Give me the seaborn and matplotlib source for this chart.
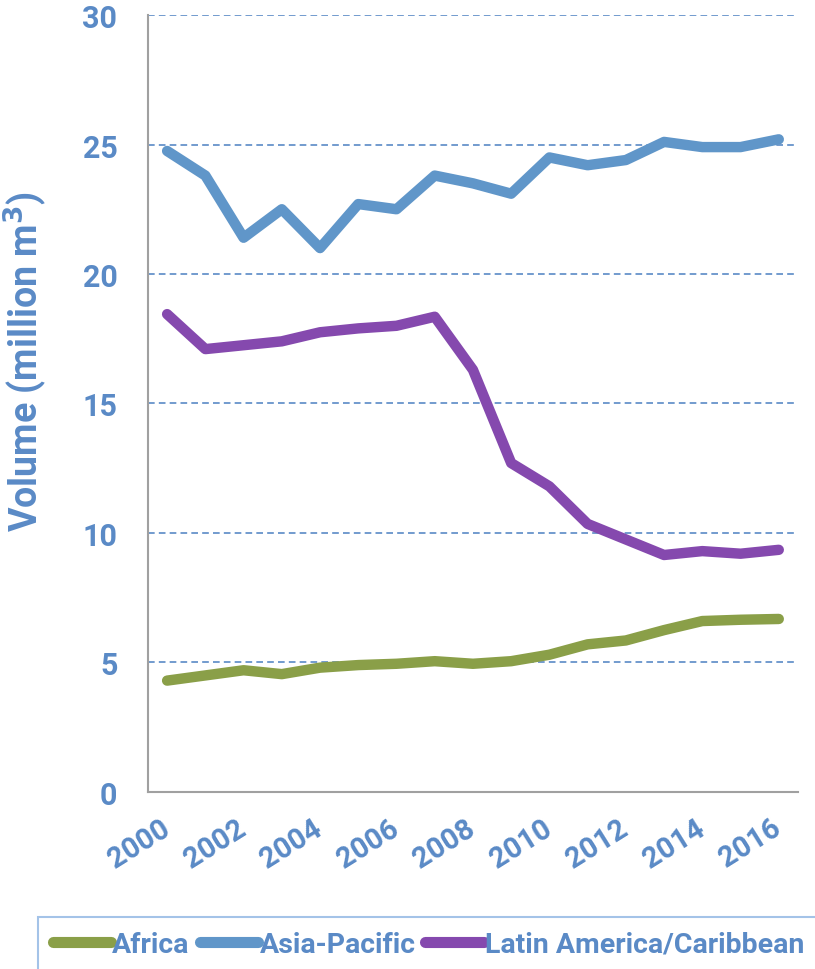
import pandas as pd
import matplotlib.pyplot as plt
import seaborn as sns

years = list(range(2000, 2017))
africa = [4.3, 4.5, 4.7, 4.55, 4.8, 4.9, 4.95, 5.05, 4.95, 5.05, 5.3, 5.7, 5.85, 6.25, 6.6, 6.65, 6.68]
asia_pacific = [24.75, 23.8, 21.4, 22.5, 21.0, 22.7, 22.5, 23.8, 23.5, 23.1, 24.5, 24.2, 24.4, 25.1, 24.9, 24.9, 25.2]
latin_america = [18.45, 17.1, 17.25, 17.4, 17.75, 17.9, 18.0, 18.35, 16.3, 12.7, 11.8, 10.35, 9.75, 9.15, 9.3, 9.2, 9.35]

regions = ["Africa", "Asia-Pacific", "Latin America/Caribbean"]
colors = ["#8A9F48", "#6096C9", "#8549AE"]
text_blue = "#5A8AC6"

df = pd.concat([
    pd.DataFrame({"year": years, "volume": africa, "region": regions[0]}),
    pd.DataFrame({"year": years, "volume": asia_pacific, "region": regions[1]}),
    pd.DataFrame({"year": years, "volume": latin_america, "region": regions[2]}),
])

sns.set_style("white")
plt.rcParams["font.family"] = ["Roboto", "DejaVu Sans"]
plt.rcParams["font.weight"] = "bold"

fig = plt.figure(figsize=(8.15, 9.7), dpi=100)
ax = fig.add_axes([0.1816, 0.1825, 0.7974, 0.801])

sns.lineplot(data=df, x="year", y="volume", hue="region", hue_order=regions,
             palette=dict(zip(regions, colors)), linewidth=7.5,
             solid_capstyle="round", solid_joinstyle="round", ax=ax, zorder=3)

ax.set_xlim(1999.5, 2016.5)
ax.set_ylim(0, 30)
ax.set_yticks(range(0, 31, 5))
ax.set_xticks([y - 0.5 for y in years] + [2016.5])
ax.set_xticklabels([])
ax.set_xticks(years[::2], minor=True)
ax.set_xticklabels([str(y) for y in years[::2]], minor=True)

ax.tick_params(axis="x", which="major", length=9, width=1.5, color="#A0A0A0", direction="out")
ax.tick_params(axis="x", which="minor", length=0, pad=24, labelsize=21, labelcolor=text_blue,
               labelrotation=32)
for lab in ax.get_xticklabels(minor=True):
    lab.set_ha("right")
    lab.set_va("center")
    lab.set_rotation_mode("anchor")
    lab.set_fontweight("bold")
ax.tick_params(axis="y", length=10, width=1.5, color="#A0A0A0", direction="out",
               labelsize=22, labelcolor=text_blue, pad=12)
for lab in ax.get_yticklabels():
    lab.set_fontweight("bold")

for s in ["top", "right"]:
    ax.spines[s].set_visible(False)
for s in ["left", "bottom"]:
    ax.spines[s].set_color("#A0A0A0")
    ax.spines[s].set_linewidth(1.5)

ax.yaxis.grid(True, color=text_blue, linestyle=(0, (4, 2.5)), linewidth=1.2)
ax.set_axisbelow(True)

ax.set_xlabel("")
ax.set_ylabel("Volume (million m$^{3}$)", fontsize=27, color=text_blue, fontweight="bold")
ax.yaxis.set_label_coords(-0.152, 0.555)

handles, labels = ax.get_legend_handles_labels()
ax.get_legend().remove()
leg = fig.legend(handles, labels, loc="upper left", bbox_to_anchor=(0.047, 0.054),
                 ncol=3, frameon=True, fancybox=False, fontsize=20.5, handlelength=2.05,
                 handletextpad=0.05, columnspacing=0.35, borderpad=0.5, borderaxespad=0)
leg.get_frame().set_edgecolor("#8EB4E3")
leg.get_frame().set_linewidth(1.5)
for t in leg.get_texts():
    t.set_color(text_blue)
    t.set_fontweight("bold")
for h in leg.get_lines():
    h.set_linewidth(8)
    h.set_solid_capstyle("round")

fig.savefig("out.png", dpi=100)
